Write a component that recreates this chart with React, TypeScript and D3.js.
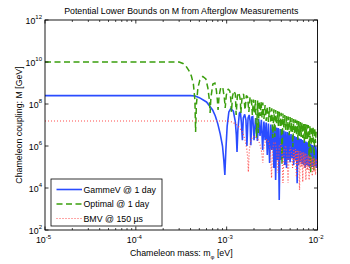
import React from 'react';
import * as d3 from 'd3';

const massDomain: [number, number] = [1e-5, 1e-2];
const couplingDomain: [number, number] = [1e2, 1e12];
const massTicks = [1e-5, 1e-4, 1e-3, 1e-2];
const massTickExps = ['-5', '-4', '-3', '-2'];
const couplingTicks = [1e2, 1e4, 1e6, 1e8, 1e10, 1e12];
const couplingTickExps = ['2', '4', '6', '8', '10', '12'];

const titleText = 'Potential Lower Bounds on M from Afterglow Measurements';
const legendLabels = ['GammeV @ 1 day', 'Optimal @ 1 day', 'BMV @ 150 \u00b5s'];

// GammeV @ 1 day : [mass eV, coupling GeV]
const gammev: [number, number][] = [
  [1e-5, 2.5e8], [4.0e-4, 2.5e8], [4.5e-4, 2.4e8], [5.0e-4, 2.0e8], [6.0e-4, 1.25e8],
  [7.0e-4, 5.2e7], [7.5e-4, 2.7e7], [8.0e-4, 1.1e7], [8.5e-4, 3.7e6], [9.0e-4, 1.0e6],
  [9.3e-4, 2.15e5], [9.55e-4, 4.2e4],
  [9.8e-4, 6.5e5], [1.013e-3, 8.9e6], [1.057e-3, 4.2e7], [1.11e-3, 6.1e7], [1.185e-3, 4.6e7],
  [1.246e-3, 1.4e7], [1.278e-3, 3.3e6], [1.30e-3, 5.2e5],
  [1.328e-3, 5.8e6], [1.38e-3, 3.7e7], [1.415e-3, 4.2e7], [1.45e-3, 1.4e7], [1.49e-3, 1.9e6],
  [1.525e-3, 2.15e7], [1.58e-3, 3.2e7], [1.63e-3, 1.7e7], [1.67e-3, 1.0e6],
  [1.72e-3, 2.15e7], [1.77e-3, 3.0e7], [1.81e-3, 1.55e7], [1.845e-3, 1.1e6],
  [1.89e-3, 2.4e7], [1.94e-3, 2.5e7], [2.0e-3, 1.9e6],
  [2.08e-3, 2.15e7], [2.18e-3, 1.75e6], [2.25e-3, 1.95e7], [2.33e-3, 3.0e6],
  [2.41e-3, 1.75e7], [2.49e-3, 6.5e5],
  [2.57e-3, 1.47e7], [2.65e-3, 1.9e6], [2.72e-3, 1.32e7], [2.80e-3, 3.7e5],
  [2.88e-3, 1.18e7], [2.97e-3, 1.55e5], [3.06e-3, 1.06e7], [3.14e-3, 6.5e5],
  [3.22e-3, 9.5e6], [3.31e-3, 9.0e4], [3.39e-3, 8.5e6], [3.46e-3, 2.4e4],
  [3.55e-3, 7.6e6], [3.64e-3, 2.15e5], [3.71e-3, 7.2e6], [3.79e-3, 2.7e3],
  [3.89e-3, 6.45e6], [3.98e-3, 2.15e5], [4.07e-3, 6.1e6], [4.16e-3, 2.7e5],
  [4.26e-3, 5.5e6], [4.36e-3, 1.25e5], [4.46e-3, 4.9e6], [4.56e-3, 9.0e4],
  [4.67e-3, 4.6e6], [4.77e-3, 2.15e5], [4.88e-3, 4.2e6], [4.99e-3, 1.7e5],
  [5.11e-3, 3.7e6], [5.23e-3, 2.7e5], [5.35e-3, 3.3e6], [5.47e-3, 1.25e5],
  [5.60e-3, 3.0e6], [5.73e-3, 2.15e5], [5.86e-3, 2.7e6], [5.97e-3, 1.7e4],
  [6.09e-3, 2.5e6], [6.21e-3, 1.25e5], [6.34e-3, 2.3e6], [6.47e-3, 1.7e5],
  [6.60e-3, 2.15e6], [6.74e-3, 1.4e5], [6.88e-3, 1.9e6], [7.02e-3, 1.25e5],
  [7.16e-3, 1.7e6], [7.30e-3, 9.0e4], [7.45e-3, 1.65e6], [7.61e-3, 1.25e5],
  [7.76e-3, 1.5e6], [7.92e-3, 1.1e5], [8.08e-3, 1.4e6], [8.25e-3, 9.0e4],
  [8.42e-3, 1.25e6], [8.59e-3, 1.0e5], [8.76e-3, 1.1e6], [8.95e-3, 1.0e5],
  [9.13e-3, 1.05e6], [9.32e-3, 1.1e5], [9.51e-3, 9.5e5], [9.70e-3, 9.0e4],
  [1.0e-2, 9.0e5],
];

// Optimal @ 1 day
const optimal: [number, number][] = [
  [1e-5, 1.0e10], [3.0e-4, 1.0e10], [3.30e-4, 8.5e9], [3.56e-4, 6.45e9], [3.84e-4, 3.9e9],
  [4.09e-4, 2.15e9], [4.30e-4, 9.0e8], [4.47e-4, 1.55e8], [4.55e-4, 4.6e6],
  [4.64e-4, 9.0e7], [4.82e-4, 5.8e8], [5.07e-4, 1.39e9], [5.47e-4, 2.04e9], [5.90e-4, 1.55e9],
  [6.21e-4, 5.8e8], [6.45e-4, 1.55e8], [6.57e-4, 3.7e7],
  [6.70e-4, 1.93e8], [7.05e-4, 9.0e8], [7.42e-4, 1.0e9], [7.70e-4, 4.6e8], [7.90e-4, 1.55e8],
  [8.04e-4, 5.2e7],
  [8.25e-4, 2.4e8], [8.63e-4, 6.45e8], [9.08e-4, 5.8e8], [9.43e-4, 1.93e8], [9.63e-4, 6.45e7],
  [9.92e-4, 2.7e8], [1.039e-3, 5.2e8], [1.084e-3, 4.16e8], [1.112e-3, 1.55e8], [1.129e-3, 4.16e7],
  [1.161e-3, 2.4e8], [1.20e-3, 4.16e8], [1.246e-3, 3.0e8], [1.272e-3, 3.0e7],
  [1.311e-3, 2.4e8], [1.362e-3, 3.53e8], [1.415e-3, 1.55e8], [1.433e-3, 3.7e7],
  [1.48e-3, 2.4e8], [1.535e-3, 3.0e8], [1.594e-3, 5.2e7],
  [1.647e-3, 2.54e8], [1.70e-3, 2.15e8], [1.755e-3, 4.16e7],
  [1.81e-3, 2.15e8], [1.87e-3, 1.93e8], [1.917e-3, 3.0e7],
  [1.97e-3, 1.64e8], [2.02e-3, 3.7e7], [2.07e-3, 1.55e8], [2.13e-3, 2.4e6],
  [2.19e-3, 1.47e8], [2.23e-3, 4.16e6], [2.28e-3, 1.39e8], [2.34e-3, 2.7e7],
  [2.39e-3, 1.32e8], [2.45e-3, 2.15e7], [2.50e-3, 1.18e8],
  [2.57e-3, 1.93e7], [2.65e-3, 9.0e7], [2.72e-3, 1.55e7], [2.80e-3, 8.0e7],
  [2.88e-3, 1.39e7], [2.97e-3, 7.2e7], [3.06e-3, 1.25e7], [3.14e-3, 6.2e7],
  [3.22e-3, 2.4e6], [3.31e-3, 5.65e7], [3.39e-3, 2.7e6], [3.46e-3, 5.2e7],
  [3.55e-3, 1.12e7], [3.64e-3, 4.6e7], [3.71e-3, 9.0e6], [3.79e-3, 4.26e7],
  [3.89e-3, 8.0e6], [3.98e-3, 3.85e7], [4.07e-3, 1.25e5], [4.16e-3, 3.5e7],
  [4.26e-3, 7.2e6], [4.36e-3, 3.0e7], [4.46e-3, 5.8e6], [4.56e-3, 2.7e7],
  [4.67e-3, 5.2e6], [4.77e-3, 2.54e7], [4.88e-3, 3.3e6], [4.99e-3, 2.4e7],
  [5.11e-3, 4.6e6], [5.23e-3, 2.15e7], [5.35e-3, 9.0e5], [5.47e-3, 1.93e7],
  [5.60e-3, 3.7e6], [5.73e-3, 1.8e7], [5.86e-3, 3.3e6], [5.97e-3, 1.64e7],
  [6.09e-3, 1.93e6], [6.21e-3, 1.55e7], [6.34e-3, 3.0e6], [6.47e-3, 1.39e7],
  [6.60e-3, 2.7e6], [6.74e-3, 1.32e7], [6.88e-3, 2.4e6], [7.02e-3, 1.25e7],
  [7.16e-3, 1.39e6], [7.30e-3, 1.12e7], [7.45e-3, 2.15e6], [7.61e-3, 1.06e7],
  [7.76e-3, 1.93e6], [7.92e-3, 1.0e7], [8.08e-3, 3.0e5], [8.25e-3, 9.0e6],
  [8.42e-3, 5.2e4], [8.59e-3, 8.5e6], [8.76e-3, 1.55e6], [8.95e-3, 7.6e6],
  [9.13e-3, 7.2e4], [9.32e-3, 7.2e6], [9.51e-3, 1.39e6], [9.70e-3, 6.45e6],
  [1.0e-2, 6.2e6],
];

// BMV @ 150 us
const bmv: [number, number][] = [
  [1e-5, 1.55e7], [1.03e-3, 1.55e7], [1.14e-3, 1.39e7], [1.26e-3, 1.12e7], [1.38e-3, 7.6e6],
  [1.49e-3, 4.6e6], [1.585e-3, 2.15e6], [1.66e-3, 8.0e5], [1.706e-3, 2.7e5], [1.733e-3, 5.8e4],
  [1.77e-3, 5.2e5], [1.823e-3, 1.55e6], [1.917e-3, 2.7e6], [2.04e-3, 3.0e6], [2.18e-3, 2.27e6],
  [2.32e-3, 1.25e6], [2.43e-3, 5.2e5], [2.50e-3, 1.55e5],
  [2.57e-3, 9.0e5], [2.69e-3, 1.93e6], [2.80e-3, 2.04e6], [2.94e-3, 1.39e6], [3.03e-3, 6.45e5],
  [3.12e-3, 3.0e4],
  [3.20e-3, 6.45e5], [3.31e-3, 1.55e6], [3.43e-3, 1.39e6], [3.55e-3, 6.45e5], [3.67e-3, 5.2e4],
  [3.79e-3, 1.0e6], [3.93e-3, 1.25e6], [4.07e-3, 5.2e5], [4.17e-3, 1.73e4],
  [4.29e-3, 6.45e5], [4.46e-3, 1.06e6], [4.60e-3, 3.7e5], [4.74e-3, 1.73e4],
  [4.88e-3, 5.2e5], [5.03e-3, 9.0e5], [5.19e-3, 3.7e5], [5.32e-3, 9.0e4],
  [5.47e-3, 7.2e5], [5.60e-3, 1.73e5], [5.73e-3, 7.2e5], [5.86e-3, 3.3e4],
  [5.97e-3, 6.45e5], [6.09e-3, 1.25e5], [6.21e-3, 5.8e5], [6.34e-3, 8.0e3],
  [6.47e-3, 5.5e5], [6.60e-3, 1.0e5], [6.74e-3, 5.2e5], [6.88e-3, 1.93e4],
  [7.02e-3, 4.9e5], [7.16e-3, 9.0e4], [7.30e-3, 4.6e5], [7.45e-3, 2.4e4],
  [7.61e-3, 4.16e5], [7.76e-3, 7.2e4], [7.92e-3, 3.7e5], [8.08e-3, 2.4e4],
  [8.25e-3, 3.3e5], [8.42e-3, 9.0e4], [8.59e-3, 3.0e5], [8.76e-3, 3.7e4],
  [8.95e-3, 2.7e5], [9.13e-3, 5.8e4], [9.32e-3, 2.54e5], [9.51e-3, 4.2e4],
  [9.70e-3, 2.4e5], [1.0e-2, 1.0e5],
];

const FONT = "'Liberation Sans', Arial, Helvetica, sans-serif";
const BLUE = '#2a4cff';
const GREEN = '#3a9e0c';
const RED = '#ff4d4d';

export default function App() {
  const left = 45, right = 317.5, top = 20, bottom = 230;
  const x = d3.scaleLog().domain(massDomain).range([left, right]);
  const y = d3.scaleLog().domain(couplingDomain).range([bottom, top]);
  const line = d3.line<[number, number]>().x(d => x(d[0])).y(d => y(d[1]));

  const minorTicks = x.ticks().filter(t => !massTicks.some(m => Math.abs(m - t) / m < 1e-6));

  const series = [
    { data: gammev, color: BLUE, dash: undefined as string | undefined, width: 1.6 },
    { data: optimal, color: GREEN, dash: '6,3.5', width: 1.5 },
    { data: bmv, color: RED, dash: '1,2', width: 1.2 },
  ];

  const legX = 51, legY = 179, legW = 111, legH = 47;

  return (
    <svg width={350} height={264} style={{ position: 'absolute', left: 0, top: 0, background: '#fff' }} fontFamily={FONT}>
      <rect x={0} y={0} width={350} height={264} fill="#fff" />
      <defs>
        <clipPath id="plotclip">
          <rect x={left} y={top} width={right - left} height={bottom - top} />
        </clipPath>
      </defs>
      <text x={(left + right) / 2} y={14} textAnchor="middle" fontSize={8.8} fill="#000">{titleText}</text>

      <g clipPath="url(#plotclip)">
        {series.map((s, i) => (
          <path key={i} d={line(s.data) || ''} fill="none" stroke={s.color} strokeWidth={s.width}
            strokeDasharray={s.dash} strokeLinejoin="miter" strokeMiterlimit={2} />
        ))}
      </g>

      {/* axes box */}
      <rect x={left} y={top} width={right - left} height={bottom - top} fill="none" stroke="#000" strokeWidth={0.9} />

      {/* x ticks */}
      {massTicks.map((t, i) => (
        <g key={'xt' + i}>
          <line x1={x(t)} x2={x(t)} y1={bottom} y2={bottom - 3.5} stroke="#000" strokeWidth={0.8} />
          <line x1={x(t)} x2={x(t)} y1={top} y2={top + 3.5} stroke="#000" strokeWidth={0.8} />
          <text x={x(t) - 1.5} y={bottom + 13} textAnchor="middle" fontSize={8.8}>
            10<tspan fontSize={6} dy={-4.5}>{massTickExps[i]}</tspan>
          </text>
        </g>
      ))}
      {minorTicks.map((t, i) => (
        <g key={'xm' + i}>
          <line x1={x(t)} x2={x(t)} y1={bottom} y2={bottom - 2} stroke="#000" strokeWidth={0.7} />
          <line x1={x(t)} x2={x(t)} y1={top} y2={top + 2} stroke="#000" strokeWidth={0.7} />
        </g>
      ))}

      {/* y ticks */}
      {couplingTicks.map((t, i) => (
        <g key={'yt' + i}>
          <line x1={left} x2={left + 3.5} y1={y(t)} y2={y(t)} stroke="#000" strokeWidth={0.8} />
          <line x1={right} x2={right - 3.5} y1={y(t)} y2={y(t)} stroke="#000" strokeWidth={0.8} />
          <text x={left - 3} y={y(t) + 3.5} textAnchor="end" fontSize={8.8}>
            10<tspan fontSize={6} dy={-4.5}>{couplingTickExps[i]}</tspan>
          </text>
        </g>
      ))}

      {/* axis labels */}
      <text x={(left + right) / 2} y={256} textAnchor="middle" fontSize={8.8}>
        Chameleon mass: m<tspan fontSize={6} dy={2.5}>{'\u03c6'}</tspan><tspan dy={-2.5}> [eV]</tspan>
      </text>
      <text transform={`translate(22,${(top + bottom) / 2}) rotate(-90)`} textAnchor="middle" fontSize={8.8}>
        Chameleon coupling: M [GeV]
      </text>

      {/* legend */}
      <rect x={legX} y={legY} width={legW} height={legH} fill="#fff" stroke="#000" strokeWidth={0.8} />
      {series.map((s, i) => {
        const ly = legY + 10.5 + i * 14.5;
        return (
          <g key={'lg' + i}>
            <line x1={legX + 5.5} x2={legX + 31} y1={ly} y2={ly} stroke={s.color} strokeWidth={s.width}
              strokeDasharray={s.dash} />
            <text x={legX + 32.5} y={ly + 3} fontSize={8.8}>{legendLabels[i]}</text>
          </g>
        );
      })}
    </svg>
  );
}
